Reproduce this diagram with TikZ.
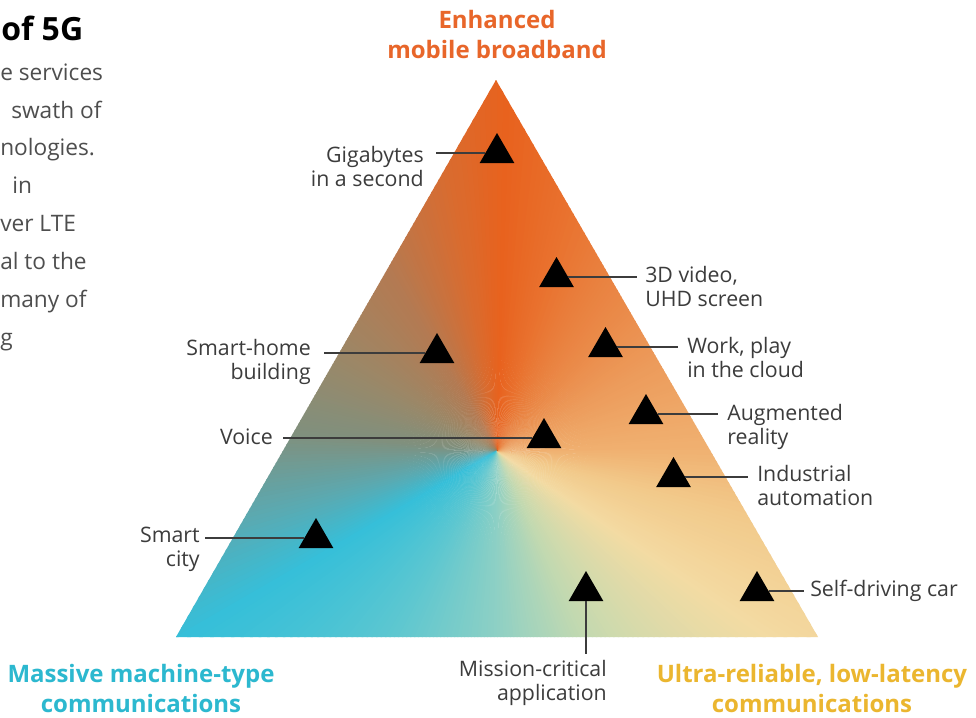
\documentclass[tikz,border=0pt]{standalone}
\usepackage{fontspec}
\setmainfont{Open Sans}
\usetikzlibrary{calc, shapes.geometric}

\definecolor{ebborange}{HTML}{E8662A}
\definecolor{mmtccyan}{HTML}{2CB8CF}
\definecolor{urllcgold}{HTML}{EBB62F}
\definecolor{labelgray}{HTML}{3C3C3C}
\definecolor{paragray}{HTML}{4E4E4E}
% colours of the cone around the centre
\definecolor{gA}{HTML}{F0B070}
\definecolor{gB}{HTML}{EC9A5A}
\definecolor{gC}{HTML}{E9803E}
\definecolor{gD}{HTML}{E8621E}
\definecolor{gE}{HTML}{D86C30}
\definecolor{gF}{HTML}{B47A52}
\definecolor{gG}{HTML}{9A8868}
\definecolor{gH}{HTML}{80907E}
\definecolor{gI}{HTML}{5AAAB2}
\definecolor{gJ}{HTML}{36BFD9}
\definecolor{gK}{HTML}{5EC7D0}
\definecolor{gL}{HTML}{8FD0C4}
\definecolor{gM}{HTML}{C3D9B0}
\definecolor{gN}{HTML}{F3DBA3}
\definecolor{gO}{HTML}{F2C98A}

\begin{document}
\begin{tikzpicture}[
    x=0.75pt, y=-0.75pt,
    marker/.style={regular polygon, regular polygon sides=3, fill=black,
        minimum size=30pt, inner sep=0pt, outer sep=0pt},
    lbl/.style={font=\fontsize{16}{17.8}\selectfont, text=labelgray, inner sep=0pt},
    leader/.style={draw=labelgray, line width=1pt},
    corner/.style={font=\bfseries\fontsize{18}{22.5}\selectfont, align=center, inner sep=0pt},
    para/.style={font=\fontsize{17}{20}\selectfont, text=paragray, inner sep=0pt, anchor=base west}
]
\path[use as bounding box, fill=white] (0,0) rectangle (976,718);

% Triangle with the conic colour field
\coordinate (apex) at (496,80);
\coordinate (bl) at (176,637);
\coordinate (br) at (818,637);
\begin{scope}
    \clip (apex) -- (bl) -- (br) -- cycle;
    \foreach \a/\b/\ca/\cb in {0/30/gA/gB, 30/60/gB/gC, 60/88/gC/gD, 88/100/gD/gE,
        100/120/gE/gF, 120/150/gF/gG, 150/175/gG/gH, 175/195/gH/gI, 195/210/gI/gJ,
        210/240/gJ/gK, 240/270/gK/gL, 270/295/gL/gM, 295/325/gM/gN, 325/345/gN/gO,
        345/360/gO/gA}{
        \pgfmathtruncatemacro\bb{\b-1}
        \foreach \t in {\a,...,\bb}{
            \pgfmathtruncatemacro\p{100*(\t-\a)/(\b-\a)}
            \fill[\cb!\p!\ca] (497,451) -- ({497+700*cos(\t)},{451-700*sin(\t)})
                -- ({497+700*cos(\t+1.3)},{451-700*sin(\t+1.3)}) -- cycle;
        }
    }
\end{scope}

% Use cases
\node[marker] (gigm) at (497,153) {};
\node[marker] (vidm) at (556.5,277) {};
\node[marker] (wrkm) at (605.5,347) {};
\node[marker] (augm) at (646,414) {};
\node[marker] (indm) at (673.5,477) {};
\node[marker] (carm) at (757,591) {};
\node[marker] (mism) at (586,591) {};
\node[marker] (scm) at (316,538) {};
\node[marker] (vcm) at (544,438) {};
\node[marker] (shm) at (437,353) {};

\node[lbl, align=right, anchor=north east] (gig) at (424,146) {Gigabytes\\in a second};
\node[lbl, align=left, anchor=north west] (vid) at (645,266) {3D video,\\UHD screen};
\node[lbl, align=left, anchor=north west] (wrk) at (687,337) {Work, play\\in the cloud};
\node[lbl, align=left, anchor=north west] (aug) at (727,404) {Augmented\\reality};
\node[lbl, align=left, anchor=north west] (ind) at (757,465) {Industrial\\automation};
\node[lbl, anchor=west] (car) at (810,591) {Self-driving car};
\node[lbl, align=right, anchor=north east] (mis) at (607,660) {Mission-critical\\application};
\node[lbl, align=right, anchor=north east] (sc) at (200,527) {Smart\\city};
\node[lbl, anchor=east] (vc) at (273,437) {Voice};
\node[lbl, align=right, anchor=north east] (sh) at (311,339) {Smart-home\\building};

\draw[leader] (gigm) -- ($(gigm -| gig.east)+(12,0)$);
\draw[leader] (vidm) -- ($(vidm -| vid.west)+(-8,0)$);
\draw[leader] (wrkm) -- ($(wrkm -| wrk.west)+(-9,0)$);
\draw[leader] (augm) -- ($(augm -| aug.west)+(-9,0)$);
\draw[leader] (indm) -- ($(indm -| ind.west)+(-9,0)$);
\draw[leader] (carm) -- ($(carm -| car.west)+(-6,0)$);
\draw[leader] (mism) -- ($(mism |- mis.north)+(0,-6)$);
\draw[leader] (scm) -- ($(scm -| sc.east)+(5,0)$);
\draw[leader] (vcm) -- ($(vcm -| vc.east)+(10,0)$);
\draw[leader] (shm) -- ($(shm -| sh.east)+(13,0)$);

% Usage scenarios
\node[corner, text=ebborange, anchor=north] (embb) at (497,10) {Enhanced\\mobile broadband};
\node[corner, text=mmtccyan, anchor=north] (mmtc) at (141,664) {Massive machine-type\\communications};
\node[corner, text=urllcgold, anchor=north] (urllc) at (812,664) {Ultra-reliable, low-latency\\communications};

% Cut-off text on the left
\node[font=\bfseries\fontsize{24}{28}\selectfont, inner sep=0pt, anchor=base west] (head) at (1,40) {of 5G};
\node[para] (p1) at (0,80) {e services};
\node[para] (p2) at (11,118) {swath of};
\node[para] (p3) at (0,155) {nologies.};
\node[para] (p4) at (12,193) {in};
\node[para] (p5) at (0,231) {ver LTE};
\node[para] (p6) at (0,269) {al to the};
\node[para] (p7) at (0,307) {many of};
\node[para] (p8) at (0,345) {g};

\end{tikzpicture}
\end{document}
